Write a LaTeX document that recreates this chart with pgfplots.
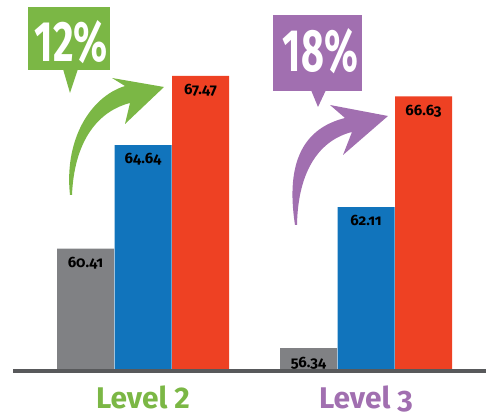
\documentclass[border=0pt]{standalone}
\usepackage{fontspec}
\setmainfont{Fira Sans}[Numbers=OldStyle]
\usepackage{pgfplots}
\pgfplotsset{compat=1.18}
\definecolor{cgrey}{HTML}{808184}
\definecolor{cblue}{HTML}{1174BC}
\definecolor{cred}{HTML}{EE4123}
\definecolor{cgreen}{HTML}{7BB745}
\definecolor{cpurple}{HTML}{A16FB0}
\definecolor{cbase}{HTML}{58595B}
\begin{document}
\begin{tikzpicture}
\useasboundingbox (0,0) rectangle (486bp,418bp);
\begin{axis}[
  at={(13bp,47bp)}, anchor=south west,
  scale only axis, width=473bp, height=371bp,
  xmin=-0.5830, xmax=1.5381, ymin=55.41, ymax=70.57,
  axis y line=none, axis x line*=bottom,
  x axis line style={draw=cbase, line width=4.5bp, -},
  axis on top,
  xtick={0,1},
  xticklabels={\textcolor{cgreen}{Level {\addfontfeatures{Numbers=Lining}2}},\textcolor{cpurple}{Level 3}},
  major tick length=0pt,
  xticklabel style={anchor=base, yshift=-38bp, font=\bfseries\fontsize{30}{32}\selectfont},
  ybar, bar width=57bp,
  nodes near coords,
  every node near coord/.append style={anchor=north, yshift=-5bp, text=black, font=\bfseries\fontsize{15}{17}\selectfont},
  /pgf/number format/assume math mode=true,
  /pgf/number format/fixed, /pgf/number format/precision=2,
]
\addplot[fill=cgrey, draw=none, bar shift=-57.5bp] coordinates {(0,60.41) (1,56.34)};
\addplot[fill=cblue, draw=none, bar shift=0bp] coordinates {(0,64.64) (1,62.11)};
\addplot[fill=cred, draw=none, bar shift=57.5bp] coordinates {(0,67.47) (1,66.63)};
\end{axis}
\begin{scope}[yshift=418bp, x=1bp, y=-1bp]
  % green callout
  \fill[cgreen] (28,7) rectangle (110,70);
  \fill[cgreen] (63,69) -- (78,69) -- (70,93) -- cycle;
  \node[text=white, inner sep=0] at (71.5,42.5) {\resizebox{73bp}{41bp}{\bfseries\addfontfeatures{Numbers=Lining}12\%}};
  \fill[cgreen] (70,195) .. controls (64,140) and (90,97) .. (125,86) -- (112,78) -- (164,87) -- (125,124) -- (130,103) .. controls (95,112) and (74,145) .. (72,195) -- cycle;
  % purple callout
  \fill[cpurple] (273,15) rectangle (362,91);
  \fill[cpurple] (311,90) -- (326,90) -- (318,107) -- cycle;
  \node[text=white, inner sep=0] at (320.5,51.5) {\resizebox{75bp}{43bp}{\bfseries\addfontfeatures{Numbers=Lining}18\%}};
  \fill[cpurple] (295,225) .. controls (285,160) and (305,128) .. (345,118) -- (330,105) -- (388,116) -- (343,155) -- (352,132) .. controls (320,140) and (298,170) .. (297,225) -- cycle;
\end{scope}
\end{tikzpicture}
\end{document}
